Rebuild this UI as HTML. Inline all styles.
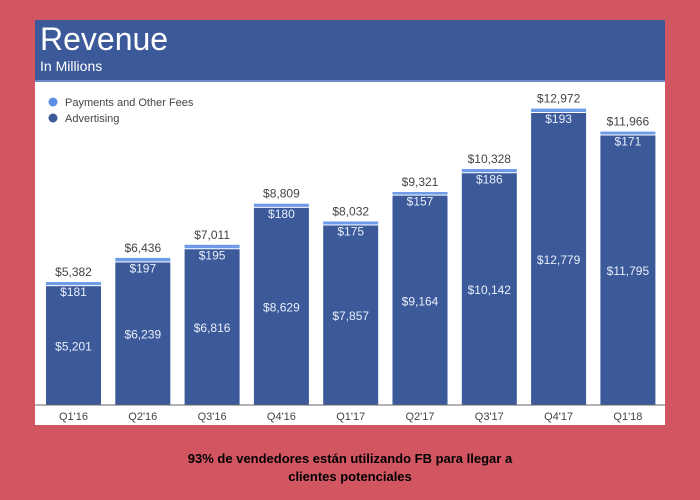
<!DOCTYPE html>
<html><head><meta charset="utf-8"><style>
body{margin:0;width:700px;height:500px;background:#d15662;font-family:"Liberation Sans",sans-serif;overflow:hidden;position:relative}
#panel{position:absolute;left:35px;top:20px;width:630px;height:405px;background:#fff}
#hdr{position:absolute;left:0;top:0;width:630px;height:60px;background:#3c5a9a;border-bottom:2px solid #6f8cc8}
#cap{position:absolute;left:0;top:450px;width:700px;text-align:center;font-weight:bold;font-size:13px;line-height:18px;color:#000}
</style></head><body>
<div id="panel">
<div id="hdr">
<div style="position:absolute;left:5px;top:1px;color:#fff;font-size:32px">Revenue</div>
<div style="position:absolute;left:5px;top:38px;color:#fff;font-size:14px">In Millions</div>
</div>
<svg id="svg" width="630" height="405" style="position:absolute;left:0;top:0"></svg>
</div>
<div id="cap">93% de vendedores están utilizando FB para llegar a<br>clientes potenciales</div>
<script>
const categories=["Q1'16","Q2'16","Q3'16","Q4'16","Q1'17","Q2'17","Q3'17","Q4'17","Q1'18"];
const advertising=[5201,6239,6816,8629,7857,9164,10142,12779,11795];
const payments=[181,197,195,180,175,157,186,193,171];
const totals=[5382,6436,7011,8809,8032,9321,10328,12972,11966];
const NS="http://www.w3.org/2000/svg";
const svg=document.getElementById('svg');
const base=385, k=0.02285, x0=11, pitch=69.3, bw=55;
const y=v=>base-v*k;
function mk(t,a){const e=document.createElementNS(NS,t);for(const n in a)e.setAttribute(n,a[n]);svg.appendChild(e);return e;}
function txt(s,xx,yy,fill,size){const e=mk('text',{x:xx,y:yy,fill:fill,'font-size':size||12,'text-anchor':'middle','font-family':'Liberation Sans, sans-serif'});e.textContent=s;return e;}
const fmt=v=>'$'+v.toLocaleString('en-US');
// legend
let c=mk('circle',{cx:18,cy:82,r:4.5,fill:'#5b8ee6'});

let t=mk('text',{x:30,y:86,'font-size':11,fill:'#444','font-family':'Liberation Sans, sans-serif'});t.textContent='Payments and Other Fees';

c=mk('circle',{cx:18,cy:98,r:4.5,fill:'#3c5a9a'});

t=mk('text',{x:30,y:102,'font-size':11,fill:'#444','font-family':'Liberation Sans, sans-serif'});t.textContent='Advertising';

categories.forEach((cat,i)=>{
  const bx=x0+i*pitch, cx=bx+bw/2;
  const ya=y(advertising[i]), yt=y(advertising[i]+payments[i]);
  let r=mk('rect',{x:bx,y:ya,width:bw,height:base-ya,fill:'#3c5a9a'});
  
  r=mk('rect',{x:bx,y:yt,width:bw,height:Math.max(ya-yt-1,2),fill:'#6e9be8'});
  
  let l=txt(fmt(totals[i]),cx,yt-6,'#444',12);
  
  l=txt(fmt(payments[i]),cx,ya+10,'#e8eefa',12);
  
  l=txt(fmt(advertising[i]),cx,(ya+base)/2+5,'#e8eefa',12);
  
  l=txt(cat,cx,base+15,'#444',11);
  
});
const ax=mk('line',{x1:0,x2:630,y1:base,y2:base,stroke:'#666','stroke-width':1});

</script>
</body></html>
